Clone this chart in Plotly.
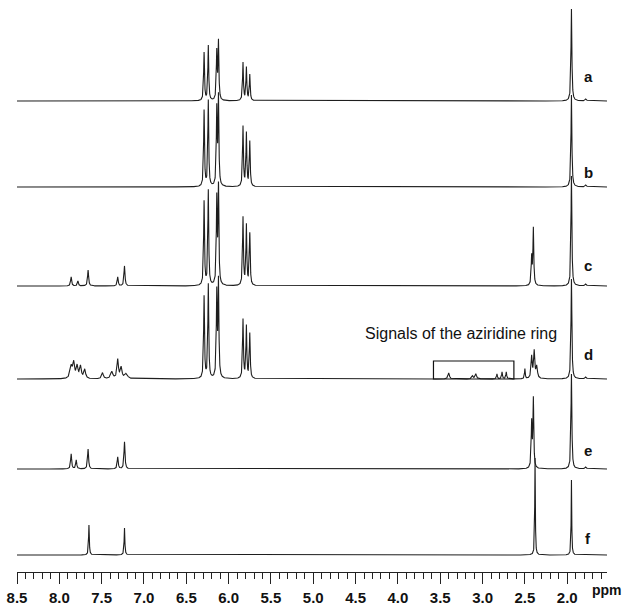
import numpy as np
import plotly.graph_objects as go

# ---------------- data ----------------
ppm_axis_ticks = [8.5, 8.0, 7.5, 7.0, 6.5, 6.0, 5.5, 5.0, 4.5, 4.0, 3.5, 3.0, 2.5, 2.0]
spectrum_labels = ["a", "b", "c", "d", "e", "f"]
# baseline levels of the stacked spectra (arbitrary intensity units, top to bottom)
baselines = [471, 385, 286, 193, 103, 17]

# peak lists: (ppm, height, half width)
peaks_a = [(6.29, 48, 0.006), (6.24, 55, 0.006), (6.14, 48, 0.006), (6.12, 58, 0.006),
           (5.83, 38, 0.006), (5.79, 33, 0.006), (5.75, 26, 0.006),
           (1.95, 92, 0.006), (1.78, 2, 0.01)]
peaks_b = [(6.29, 76, 0.006), (6.24, 86, 0.006), (6.14, 76, 0.006), (6.12, 88, 0.006),
           (5.83, 60, 0.006), (5.79, 53, 0.006), (5.75, 45, 0.006),
           (1.95, 92, 0.006), (1.78, 2, 0.01)]
peaks_c = [(7.86, 9, 0.007), (7.78, 5, 0.007), (7.66, 16, 0.007), (7.31, 9, 0.007), (7.23, 20, 0.007),
           (6.29, 84, 0.006), (6.24, 95, 0.006), (6.14, 85, 0.006), (6.12, 97, 0.006),
           (5.83, 68, 0.006), (5.79, 60, 0.006), (5.75, 52, 0.006),
           (2.42, 28, 0.006), (2.40, 57, 0.006),
           (1.95, 110, 0.006), (1.78, 2, 0.01)]
peaks_d = [(7.86, 12, 0.015), (7.83, 15, 0.012), (7.79, 12, 0.012), (7.75, 12, 0.012), (7.70, 9, 0.012),
           (7.49, 6, 0.012), (7.38, 7, 0.015), (7.31, 19, 0.01), (7.27, 11, 0.012), (7.21, 5, 0.02),
           (6.29, 82, 0.006), (6.24, 94, 0.006), (6.14, 84, 0.006), (6.12, 96, 0.006),
           (5.83, 59, 0.006), (5.79, 52, 0.006), (5.75, 45, 0.006),
           (3.40, 6, 0.01), (3.12, 3, 0.01), (3.08, 5, 0.01), (2.83, 5, 0.006), (2.77, 7, 0.006),
           (2.72, 7, 0.006), (2.50, 10, 0.005), (2.42, 22, 0.008), (2.39, 27, 0.008), (2.36, 12, 0.01),
           (1.95, 100, 0.006), (1.78, 2, 0.01)]
peaks_e = [(7.86, 15, 0.007), (7.80, 9, 0.007), (7.66, 20, 0.007), (7.31, 12, 0.007), (7.23, 27, 0.007),
           (2.42, 45, 0.006), (2.40, 69, 0.006),
           (1.95, 95, 0.006), (1.78, 2, 0.01)]
peaks_f = [(7.65, 30, 0.005), (7.23, 27, 0.005),
           (2.38, 97, 0.004), (1.95, 75, 0.004)]

all_peaks = [peaks_a, peaks_b, peaks_c, peaks_d, peaks_e, peaks_f]

annotation_text = "Signals of the aziridine ring"
box_ppm = (3.58, 2.63)

# ---------------- figure ----------------
x = np.arange(1.53, 8.5001, 0.001)


def spectrum(peaks):
    y = np.zeros_like(x)
    for p, h, w in peaks:
        y += h * w * w / ((x - p) ** 2 + w * w)
    return y


fig = go.Figure()
for base, peaks in zip(baselines, all_peaks):
    fig.add_trace(go.Scatter(x=x, y=base + spectrum(peaks), mode="lines",
                             line=dict(color="#1e1e1e", width=1.1),
                             hoverinfo="skip", showlegend=False))

label_y = [496, 400, 307, 218, 122, 34]
for lab, ly in zip(spectrum_labels, label_y):
    fig.add_annotation(x=1.75, y=ly, text="<b>" + lab + "</b>", showarrow=False,
                       xanchor="center",
                       font=dict(family="Liberation Sans", size=15, color="#111"))

fig.add_annotation(x=3.26, y=239, text=annotation_text, showarrow=False,
                   xanchor="center", font=dict(family="Liberation Sans", size=16, color="#111"))

fig.add_shape(type="rect", x0=box_ppm[0], x1=box_ppm[1], y0=baselines[3], y1=211,
              line=dict(color="#111", width=1.2))

fig.add_annotation(xref="paper", yref="paper", x=1.0, y=-0.031, xanchor="center",
                   yanchor="middle", text="<b>ppm</b>", showarrow=False,
                   font=dict(family="Liberation Sans", size=14, color="#111"))

fig.update_xaxes(range=[8.5, 1.53], tickvals=ppm_axis_ticks,
                 ticktext=["<b>%.1f</b>" % t for t in ppm_axis_ticks],
                 ticks="outside", ticklen=11, tickwidth=1.2, tickcolor="#222",
                 showline=True, linecolor="#222", linewidth=1.2, showgrid=False, zeroline=False,
                 automargin=False, ticklabelstandoff=1, ticklabeloverflow="allow",
                 minor=dict(dtick=0.1, tick0=0, ticks="outside", ticklen=6, tickwidth=1,
                            tickcolor="#222", showgrid=False),
                 tickfont=dict(family="Liberation Sans", size=15, color="#111"))
fig.update_yaxes(range=[0, 572], visible=False, automargin=False)

fig.update_layout(template="none", width=622, height=606,
                  margin=dict(l=17, r=15, t=0, b=34, pad=0),
                  plot_bgcolor="white", paper_bgcolor="white")

fig.write_html("out.html", config={"displayModeBar": False},
               post_script="document.body.style.margin='0';document.body.style.overflow='hidden';")
